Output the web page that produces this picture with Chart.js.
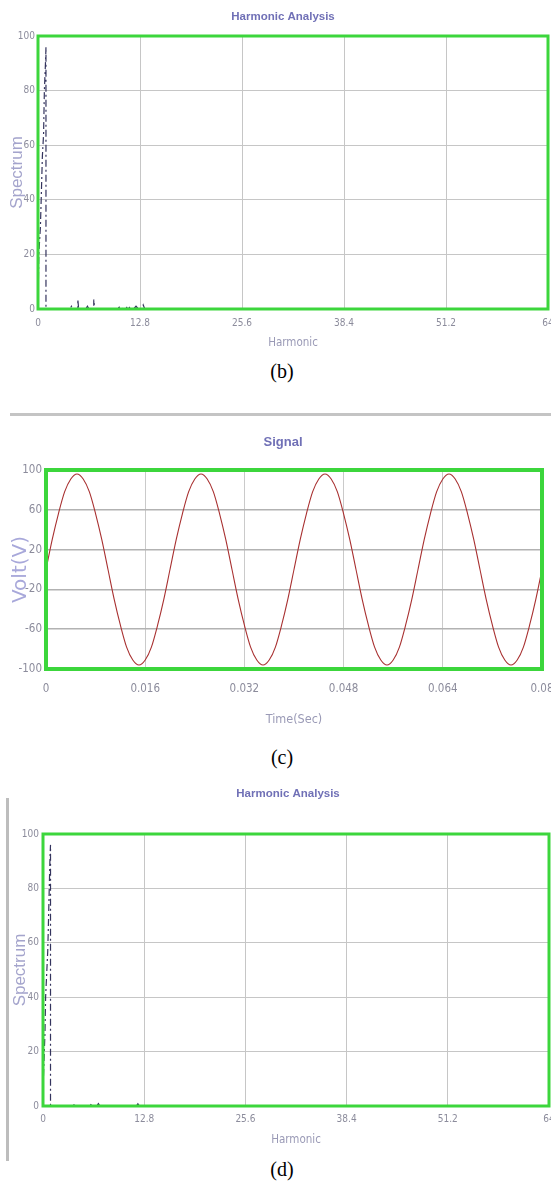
<!DOCTYPE html>
<html>
<head>
<meta charset="utf-8">
<title>Harmonic Analysis / Signal</title>
<script src="https://cdn.jsdelivr.net/npm/chart.js@4.4.1/dist/chart.umd.min.js"></script>
<style>
  html, body { margin: 0; padding: 0; background: #fff; }
  body { position: relative; width: 551px; height: 1182px; overflow: hidden; }
  canvas { position: absolute; left: 0; }
  #chartB { top: 0; }
  #chartC { top: 420px; }
  #chartD { top: 776px; }
  .caption {
    position: absolute; left: 232px; width: 100px; height: 24px;
    text-align: center; line-height: 24px; color: #000;
    font: 20px 'Liberation Serif', 'Times New Roman', serif;
  }
  .rule-h { position: absolute; left: 10px; top: 413px; width: 541px; height: 3px; background: #c4c4c4; }
  .rule-v { position: absolute; left: 6px; top: 798px; width: 3px; height: 363px; background: #bdbdbd; }
</style>
</head>
<body>
<canvas id="chartB" width="580" height="355"></canvas>
<div class="caption" style="top:360px">(b)</div>

<div class="rule-h"></div>
<canvas id="chartC" width="580" height="310"></canvas>
<div class="caption" style="top:746px">(c)</div>

<div class="rule-v"></div>
<canvas id="chartD" width="580" height="374"></canvas>
<div class="caption" style="top:1158px">(d)</div>

<script>
// =========================================================
// DATA
// =========================================================

// (b) harmonic spectrum: fundamental near 1, small 5th / 7th components
const harmonicB = [0, 0.1, 0.3, 0.4, 0.55, 0.7, 0.8, 0.95, 1, 1, 4, 4.2, 4.4, 5, 5, 5.1, 6, 6.2, 6.4, 7, 7, 7.1, 10, 10.3, 10.6, 11, 11.3, 11.6, 12, 12.3, 12.6, 13, 13.2, 13.4];
const spectrumB = [0, 20, 30, 40, 56, 64, 80, 91, 96, 0, 0, 1, 0, 0, 3.5, 0, 0, 1, 0, 0, 3.5, 0, 0, 1, 0, 0, 1.2, 0, 0, 1, 0, 0, 1.5, 0];

// (c) signal, one sample per millisecond
const timeSec = [
  0, 0.001, 0.002, 0.003, 0.004, 0.005, 0.006, 0.007, 0.008, 0.009,
  0.010, 0.011, 0.012, 0.013, 0.014, 0.015, 0.016, 0.017, 0.018, 0.019,
  0.020, 0.021, 0.022, 0.023, 0.024, 0.025, 0.026, 0.027, 0.028, 0.029,
  0.030, 0.031, 0.032, 0.033, 0.034, 0.035, 0.036, 0.037, 0.038, 0.039,
  0.040, 0.041, 0.042, 0.043, 0.044, 0.045, 0.046, 0.047, 0.048, 0.049,
  0.050, 0.051, 0.052, 0.053, 0.054, 0.055, 0.056, 0.057, 0.058, 0.059,
  0.060, 0.061, 0.062, 0.063, 0.064, 0.065, 0.066, 0.067, 0.068, 0.069,
  0.070, 0.071, 0.072, 0.073, 0.074, 0.075, 0.076, 0.077, 0.078, 0.079,
  0.080
];
const voltage = [
  0, 30, 56, 78, 91, 96, 91, 78, 56, 30,
  0, -30, -56, -78, -91, -96, -91, -78, -56, -30,
  0, 30, 56, 78, 91, 96, 91, 78, 56, 30,
  0, -30, -56, -78, -91, -96, -91, -78, -56, -30,
  0, 30, 56, 78, 91, 96, 91, 78, 56, 30,
  0, -30, -56, -78, -91, -96, -91, -78, -56, -30,
  0, 30, 56, 78, 91, 96, 91, 78, 56, 30,
  0, -30, -56, -78, -91, -96, -91, -78, -56, -30,
  0
];

// (d) harmonic spectrum: fundamental only, almost no distortion
const harmonicD = [0, 0.05, 0.25, 0.33, 0.6, 0.67, 0.75, 0.88, 0.95, 0.95, 3.8, 4, 4.2, 5.8, 6, 6.2, 6.8, 7, 7.2, 11.8, 12, 12.2];
const spectrumD = [0, 10, 27, 40, 57, 65, 75, 91, 96, 0, 0, 0.7, 0, 0, 0.7, 0, 0, 0.9, 0, 0, 0.8, 0];

// tick labels
const harmonicTicks = [0, 12.8, 25.6, 38.4, 51.2, 64];
const spectrumTicks = [0, 20, 40, 60, 80, 100];
const timeTicks = [0, 0.016, 0.032, 0.048, 0.064, 0.08];
const voltTicks = [-100, -60, -20, 20, 60, 100];

// =========================================================
// STYLE HELPERS
// =========================================================

const CONDENSED = "'DejaVu Sans Condensed', 'Liberation Sans Narrow', 'DejaVu Sans', sans-serif";
const ARIAL = "'Liberation Sans', Arial, sans-serif";
const TICK_COLOR = '#8c8c9c';
const TITLE_COLOR = '#7070b6';

// green box round the plot area, drawn over the data like the original
const plotFrame = {
    id: 'plotFrame',
    afterDatasetsDraw(chart, args, opts) {
        const { ctx, chartArea: a } = chart;
        ctx.save();
        ctx.strokeStyle = opts.color;
        ctx.lineWidth = opts.width;
        ctx.strokeRect(a.left, a.top, a.right - a.left, a.bottom - a.top);
        ctx.restore();
    }
};

function toPoints(xs, ys) {
    return xs.map((x, i) => ({ x: x, y: ys[i] }));
}

/**
 * Builds one panel. Positions come from fixed axis sizes; an empty axis on
 * the right ("spacer") shifts the centred title the way the original sits.
 */
function buildPanel(canvasId, cfg) {
    const ctx = document.getElementById(canvasId);

    return new Chart(ctx, {
        type: 'line',
        data: {
            datasets: [{
                data: toPoints(cfg.xs, cfg.ys),
                borderColor: cfg.lineColor,
                borderWidth: cfg.lineWidth,
                borderDash: cfg.dash || [],
                pointRadius: 0,
                fill: false,
                tension: 0,
                cubicInterpolationMode: cfg.smooth ? 'monotone' : 'default'
            }]
        },
        options: {
            responsive: false,
            animation: false,
            devicePixelRatio: 1,
            layout: { padding: { left: 0, right: cfg.padRight, top: 0, bottom: 0 } },
            plugins: {
                legend: { display: false },
                tooltip: { enabled: false },
                title: {
                    display: true,
                    text: cfg.title,
                    color: TITLE_COLOR,
                    font: { family: ARIAL, size: cfg.titleSize, weight: 'bold' },
                    padding: cfg.titlePadding
                },
                plotFrame: { color: '#3cd63c', width: cfg.frameWidth }
            },
            scales: {
                x: {
                    type: 'linear',
                    min: cfg.xTicks[0],
                    max: cfg.xTicks[cfg.xTicks.length - 1],
                    afterBuildTicks: s => { s.ticks = cfg.xTicks.map(v => ({ value: v })); },
                    afterFit: s => { s.height = cfg.xHeight; },
                    border: { display: false },
                    grid: { color: cfg.xGridColor, lineWidth: cfg.xGridWidth, drawTicks: false },
                    ticks: {
                        color: TICK_COLOR,
                        font: { family: CONDENSED, size: cfg.tickSize },
                        padding: cfg.xTickPad,
                        autoSkip: false,
                        maxRotation: 0,
                        callback: v => String(v)
                    },
                    title: {
                        display: true,
                        text: cfg.xTitle,
                        color: '#9a9ab6',
                        font: { family: CONDENSED, size: cfg.xTitleSize },
                        padding: { top: 0, bottom: cfg.xTitlePad }
                    }
                },
                y: {
                    type: 'linear',
                    min: cfg.yTicks[0],
                    max: cfg.yTicks[cfg.yTicks.length - 1],
                    afterBuildTicks: s => { s.ticks = cfg.yTicks.map(v => ({ value: v })); },
                    afterFit: s => { s.width = cfg.yWidth; },
                    border: { display: false },
                    grid: { color: cfg.yGridColor, lineWidth: cfg.yGridWidth, drawTicks: false },
                    ticks: {
                        color: TICK_COLOR,
                        font: { family: CONDENSED, size: cfg.tickSize },
                        padding: cfg.yTickPad,
                        autoSkip: false,
                        callback: v => String(v)
                    },
                    title: {
                        display: true,
                        text: cfg.yTitle,
                        color: cfg.yTitleColor,
                        font: { family: cfg.yTitleFamily, size: cfg.yTitleSize },
                        padding: { top: cfg.yTitlePad, bottom: 0 }
                    }
                },
                spacer: {
                    type: 'linear',
                    position: 'right',
                    afterFit: s => { s.width = cfg.spacerWidth; },
                    border: { display: false },
                    grid: { display: false },
                    ticks: { display: false }
                }
            }
        },
        plugins: [plotFrame]
    });
}

// =========================================================
// PANELS
// =========================================================

// (b)
buildPanel('chartB', {
    xs: harmonicB, ys: spectrumB,
    lineColor: '#34345e', lineWidth: 1.2, dash: [7, 3, 2, 3],
    title: 'Harmonic Analysis', titleSize: 11.5, titlePadding: { top: 10.1, bottom: 12.1 },
    padRight: 14, spacerWidth: 18,
    xTicks: harmonicTicks, yTicks: spectrumTicks,
    xHeight: 46, yWidth: 38,
    xGridColor: '#c6c6c6', xGridWidth: 1, yGridColor: '#c6c6c6', yGridWidth: 1, frameWidth: 3,
    tickSize: 10, xTickPad: 8, yTickPad: 3,
    xTitle: 'Harmonic', xTitleSize: 11.5, xTitlePad: 5,
    yTitle: 'Spectrum', yTitleColor: '#a4a4cc', yTitleFamily: ARIAL, yTitleSize: 17, yTitlePad: 6.8
});

// (c)
buildPanel('chartC', {
    xs: timeSec, ys: voltage,
    lineColor: '#a83030', lineWidth: 1.1, smooth: true,
    title: 'Signal', titleSize: 13, titlePadding: { top: 14.2, bottom: 20.2 },
    padRight: 14, spacerWidth: 24,
    xTicks: timeTicks, yTicks: voltTicks,
    xHeight: 61, yWidth: 46,
    xGridColor: '#cacaca', xGridWidth: 1, yGridColor: '#b2b2b2', yGridWidth: 1.6, frameWidth: 4,
    tickSize: 11.5, xTickPad: 13.1, yTickPad: 4,
    xTitle: 'Time(Sec)', xTitleSize: 12.5, xTitlePad: 2.5,
    yTitle: 'Volt(V)', yTitleColor: '#a8a8da', yTitleFamily: "'DejaVu Sans', sans-serif", yTitleSize: 20, yTitlePad: 9
});

// (d)
buildPanel('chartD', {
    xs: harmonicD, ys: spectrumD,
    lineColor: '#34345e', lineWidth: 1.2, dash: [7, 3, 2, 3],
    title: 'Harmonic Analysis', titleSize: 11.5, titlePadding: { top: 11.1, bottom: 33.1 },
    padRight: 4, spacerWidth: 27,
    xTicks: harmonicTicks, yTicks: spectrumTicks,
    xHeight: 44, yWidth: 43,
    xGridColor: '#c6c6c6', xGridWidth: 1, yGridColor: '#c6c6c6', yGridWidth: 1, frameWidth: 3,
    tickSize: 10, xTickPad: 7, yTickPad: 4,
    xTitle: 'Harmonic', xTitleSize: 11.5, xTitlePad: 3,
    yTitle: 'Spectrum', yTitleColor: '#a4a4cc', yTitleFamily: ARIAL, yTitleSize: 17, yTitlePad: 9.8
});
</script>
</body>
</html>
